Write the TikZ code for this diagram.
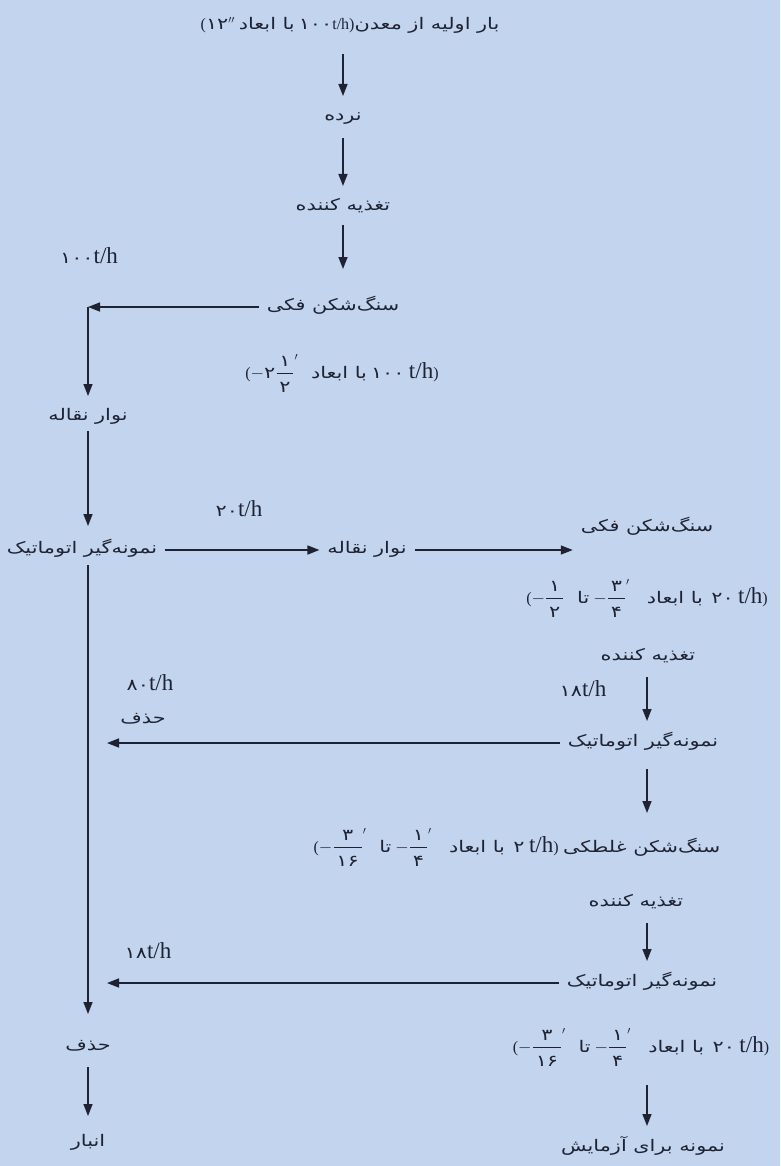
\documentclass[tikz,border=0pt]{standalone}
\usepackage{fontspec}
\setmainfont{Liberation Serif}
\newfontfamily\fa[Script=Arabic,FakeStretch=1.3]{DejaVu Sans}
\TeXXeTstate=1
\usetikzlibrary{arrows.meta}
\definecolor{bgblue}{RGB}{195,213,238}
\definecolor{ink}{RGB}{30,34,50}
% persian digits, fractions, rates and rtl phrases
\newcommand{\pd}[1]{\hbox{\fa #1}}
\newcommand{\fr}[2]{{\displaystyle\frac{\,\pd{#1}\rule[-6pt]{0pt}{0pt}\,}{\,\rule{0pt}{17pt}\pd{#2}\,}}}
\newcommand{\rl}[1]{{\fa\beginR #1\endR}}
\newcommand{\tph}{{\fontsize{23}{25}\selectfont t/h}}
\tikzset{
    lbl/.style={
        font=\fontsize{16}{18}\selectfont,
        text=ink,
        inner sep=0pt,
        outer sep=8pt,
        text height=9pt,
        text depth=3pt
    },
    rate/.style={
        lbl
    },
    flow/.style={
        -{Triangle[length=12pt,width=9pt]},
        line width=1.5pt,
        draw=ink
    },
    down/.style={
        flow,
        shorten <=6pt,
        shorten >=8pt
    }
}
\begin{document}
\begin{tikzpicture}[x=1pt,y=-1pt]
    % Background and page size
    \fill[bgblue] (0,0) rectangle (780,1166);
    \useasboundingbox (0,0) rectangle (780,1166);
    \coordinate (top) at (343,0);
    \coordinate (col) at (647,0);
    \coordinate (lcol) at (88,0);

    % Main column
    \node[lbl] (load) at (350,27)
        {(\pd{۱۲}$''$ \rl{با ابعاد} \pd{۱۰۰}t/h)\rl{بار اولیه از معدن}};
    \node[lbl] (grizzly) at (343,118) {\rl{نرده}};
    \node[lbl] (feeder1) at (343,208) {\rl{تغذیه کننده}};
    \node[lbl] (crusher1) at (333,307) {\rl{سنگ‌شکن فکی}};
    \node[lbl] (dim1) at (342,375)
        {($-\pd{۲}\fr{۱}{۲}^{\prime}$\;\; \rl{با ابعاد} \pd{۱۰۰}\;\tph)};
    \node[rate] (rate1) at (89,260) {\pd{۱۰۰}\tph};

    % Left column
    \coordinate (c1) at (88,307);
    \node[lbl] (conv1) at (88,417) {\rl{نوار نقاله}};
    \node[lbl] (sampler1) at (82,550) {\rl{نمونه‌گیر اتوماتیک}};
    \node[rate] (rate2) at (239,513) {\pd{۲۰}\tph};
    \node[lbl] (conv2) at (367,550) {\rl{نوار نقاله}};

    % Right column
    \node[lbl] (crusher2) at (647,528) {\rl{سنگ‌شکن فکی}};
    \node[lbl] (dim2) at (647,600)
        {($-\fr{۱}{۲}$\;\; \rl{تا} $-\fr{۳}{۴}^{\prime}$\;\;\; \rl{با ابعاد} \;\pd{۲۰}\;\tph)};
    \node[lbl] (feeder2) at (648,657) {\rl{تغذیه کننده}};
    \node[rate] (rate3) at (583,693) {\pd{۱۸}\tph};
    \node[lbl] (sampler2) at (643,743) {\rl{نمونه‌گیر اتوماتیک}};
    \node[rate] (rate4) at (150,687) {\pd{۸۰}\tph};
    \node[lbl] (reject1) at (143,720) {\rl{حذف}};
    \node[lbl] (rolls) at (517,849)
        {($-\fr{۳}{۱۶}^{\prime}$\;\; \rl{تا} $-\fr{۱}{۴}^{\prime}$\;\;\; \rl{با ابعاد} \;\pd{۲}\;\tph)\;\rl{سنگ‌شکن غلطکی}};
    \node[lbl] (feeder3) at (636,903) {\rl{تغذیه کننده}};
    \node[lbl] (sampler3) at (642,983) {\rl{نمونه‌گیر اتوماتیک}};
    \node[rate] (rate5) at (148,955) {\pd{۱۸}\tph};
    \node[lbl] (dim3) at (641,1049)
        {($-\fr{۳}{۱۶}^{\prime}$\;\; \rl{تا} $-\fr{۱}{۴}^{\prime}$\;\;\; \rl{با ابعاد} \;\pd{۲۰}\;\tph)};
    \node[lbl] (test) at (643,1148) {\rl{نمونه برای آزمایش}};

    % Bottom left
    \node[lbl] (reject2) at (88,1047) {\rl{حذف}};
    \node[lbl] (store) at (88,1143) {\rl{انبار}};
    \coordinate (end2) at (107,743);
    \coordinate (end3) at (107,983);

    % Arrows of the main column
    \draw[down, shorten <=13pt] (top |- load.south) -- (top |- grizzly.north);
    \draw[down] (top |- grizzly.south) -- (top |- feeder1.north);
    \draw[down, shorten <=3pt, shorten >=24pt] (top |- feeder1.south) -- (top |- crusher1.north);
    \draw[flow] (crusher1.west) -- (c1);
    \draw[flow, shorten >=7pt] (c1) -- (lcol |- conv1.north);

    % Arrows of the left column
    \draw[flow, shorten >=10pt] (lcol |- conv1.south) -- (lcol |- sampler1.north);
    \draw[flow] (sampler1.east) -- (conv2.west);
    \draw[flow] (conv2.east) -- (conv2.east -| crusher2.west);
    \draw[flow, shorten <=1pt, shorten >=19pt] (lcol |- sampler1.south) -- (lcol |- reject2.north);
    \draw[down, shorten >=13pt] (lcol |- reject2.south) -- (lcol |- store.north);

    % Arrows of the right column
    \draw[down] (col |- feeder2.south) -- (col |- sampler2.north);
    \draw[flow] (sampler2.west) -- (end2);
    \draw[down, shorten <=12pt, shorten >=22pt] (col |- sampler2.south) -- (col |- rolls.north);
    \draw[down] (col |- feeder3.south) -- (col |- sampler3.north);
    \draw[flow] (sampler3.west) -- (end3);
    \draw[down, shorten <=22pt] (col |- dim3.south) -- (col |- test.north);
\end{tikzpicture}
\end{document}
